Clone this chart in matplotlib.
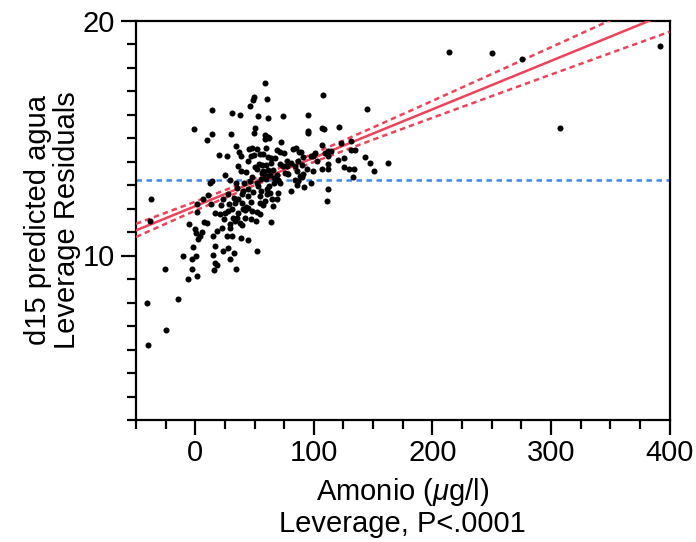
import numpy as np
import matplotlib
matplotlib.use("Agg")
import matplotlib.pyplot as plt
from matplotlib.ticker import MultipleLocator, FixedLocator

plt.rcParams['font.family'] = ['Liberation Sans', 'DejaVu Sans']
plt.rcParams['mathtext.fontset'] = 'custom'
plt.rcParams['mathtext.it'] = 'Liberation Sans:italic'
plt.rcParams['mathtext.rm'] = 'Liberation Sans'

# leverage points: Amonio (ug/l) vs d15 leverage residuals
amonio = [
    -37.1, -38.2, -25.5, -41.0, -14.3, -25.0, -39.7,
    59.0, 49.2, 48.9, 60.2, 45.9, 14.1, 31.0, 37.9, 52.6, 61.6, 73.7,
    -1.3, 13.8, 10.1, 29.8, 50.1, 49.5, 58.8, 61.0, 62.4, 58.8, 72.3,
    34.3, 48.1, 45.5, 52.3, 59.9, 68.6, 71.4, 74.5, 82.6, 84.9, 37.1,
    38.3, 20.2, 26.7, 47.0, 49.5, 54.6, 56.8, 61.6, 63.6, 67.2, 44.7,
    77.1, 80.4, 36.3, 53.5, 56.5, 59.4, 50.3, 52.3, 61.6, 65.8, 71.4,
    74.2, 77.6, 84.3, 38.5, 56.0, 58.8, 63.0, 68.6, 75.6, 25.3, 47.6,
    55.1, 59.6, 13.8, 12.4, 29.3, 34.3, 41.3, 51.8, 66.4, 71.4, 84.1,
    85.5, 34.9, 40.0, 44.7, 55.4, 60.2, 63.0, 70.0, 80.7, 11.0, 23.6,
    32.9, 39.1, 44.7, 54.6, 58.8, 64.4, 68.6, 6.2, 28.7, 33.5, 39.1,
    47.0, 54.6, 65.8, 1.7, 13.0, 16.6, 20.8, 25.0, 27.8, 30.7, 36.3,
    41.9, 44.7, 47.6, 51.8, 41.9, 46.7, 37.7, 39.1, -5.1, 1.2, 7.3,
    9.6, 29.3, 33.5, 51.2, 63.6, -0.3, 0.6, 5.4, 15.2, 22.3, 29.3,
    26.5, 30.7, 38.5, 44.2, 2.5, 4.0, -1.7, 16.6, 15.2, 23.6, 27.3,
    51.8, 32.6, 29.3, -10.1, -3.0, 0.6, 16.6, 18.0, -2.5, 16.0, 34.3,
    1.2, -6.2,
    108.0, 144.5, 94.8, 95.3, 95.5, 106.6, 108.8, 121.4, 87.4, 89.1,
    107.1, 122.9, 131.3, 131.0, 134.7, 109.4, 112.1, 114.4, 100.9, 97.6,
    99.5, 102.4, 91.1, 86.8, 89.7, 111.6, 112.1, 120.1, 125.6, 143.1,
    147.3, 162.7, 150.7, 125.1, 129.6, 134.1, 106.6, 111.6, 99.5, 93.9,
    85.5, 91.1, 88.3, 90.2, 133.3, 86.3, 97.6, 91.9, 111.6, 111.0,
    213.9, 250.2, 275.2, 307.5, 391.6,
    # extra points filling the dense core
    42.5, 46.0, 53.0, 57.5, 62.5, 66.0, 43.0, 48.5, 35.5, 40.5, 57.0,
    64.0, 69.5, 24.0, 28.0, 31.5, 18.5, 21.5, 36.0, 55.0, 60.5, 78.5,
]
residual = [
    12.42, 11.46, 9.44, 7.98, 8.15, 6.85, 6.19,
    17.32, 16.75, 16.60, 16.65, 16.36, 16.19, 16.05, 15.97, 15.92, 15.83, 15.93,
    15.39, 15.19, 14.93, 15.19, 15.43, 15.22, 15.13, 15.06, 14.99, 14.96, 14.81,
    14.68, 14.56, 14.54, 14.52, 14.58, 14.50, 14.42, 14.38, 14.54, 14.58, 14.42,
    14.25, 14.28, 14.22, 14.25, 14.28, 14.32, 14.30, 14.19, 14.13, 14.13, 14.03,
    14.03, 13.94, 13.82, 13.89, 13.85, 13.85, 13.75, 13.68, 13.65, 13.65, 13.89,
    13.82, 13.79, 13.79, 13.58, 13.53, 13.43, 13.42, 13.42, 13.51, 13.42, 13.32,
    13.25, 13.25, 13.18, 13.08, 13.22, 13.08, 13.08, 13.08, 13.08, 13.08, 13.22,
    13.01, 12.89, 12.75, 12.85, 12.75, 12.85, 12.68, 12.68, 12.75, 12.57, 12.39,
    12.46, 12.61, 12.54, 12.54, 12.32, 12.39, 12.42, 12.39, 12.18, 12.22, 12.25,
    12.28, 12.25, 12.11, 12.18, 12.21, 11.82, 11.75, 11.82, 11.89, 11.97, 11.82,
    11.94, 12.03, 11.89, 11.85, 11.61, 11.56, 11.39, 11.28, 11.32, 11.85, 11.42,
    11.39, 11.32, 11.46, 11.46, 11.42, 11.11, 10.96, 10.99, 10.82, 11.18, 11.18,
    10.85, 10.85, 10.75, 10.68, 10.71, 10.82, 10.36, 10.39, 10.04, 10.18, 10.32,
    10.18, 10.11, 9.85, 10.00, 9.85, 9.97, 9.68, 9.61, 9.42, 9.40, 9.42,
    9.14, 9.01,
    16.85, 16.23, 15.97, 15.28, 15.20, 15.42, 15.39, 15.46, 14.42, 14.39,
    14.72, 14.78, 14.86, 14.49, 14.50, 14.36, 14.45, 14.46, 14.36, 14.22,
    14.25, 14.03, 14.18, 14.03, 13.85, 14.22, 13.89, 14.08, 14.13, 14.18,
    13.94, 13.92, 13.58, 13.75, 13.68, 13.70, 13.70, 13.68, 13.61, 13.68,
    13.61, 13.46, 13.39, 13.32, 13.32, 13.18, 13.08, 12.93, 12.85, 12.32,
    18.65, 18.60, 18.37, 15.42, 18.93,
    13.55, 13.15, 12.95, 13.60, 12.95, 13.30, 12.05, 12.70, 11.60, 12.00, 12.15,
    13.95, 13.20, 11.55, 12.60, 11.60, 11.05, 12.15, 12.40, 11.75, 12.60, 13.45,
]

# fitted line and confidence band
fit_intercept = 12.1
fit_slope = 0.0206
mean_resid = 13.21
band_x = [-50, 0, 50, 100, 150, 200, 250, 300, 350, 400]
band_hw = [0.28, 0.19, 0.14, 0.18, 0.26, 0.36, 0.47, 0.58, 0.70, 0.82]

red = '#EE4259'
blue = '#3A89F0'

fig = plt.figure(figsize=(6.96, 5.42), dpi=100)
ax = fig.add_axes([136/696, 1-420/542, (669.5-136)/696, (420-20.5)/542])

bx = np.array(band_x, dtype=float)
fit = fit_intercept + fit_slope*bx
hw = np.array(band_hw)
ax.axhline(mean_resid, color=blue, lw=1.8, dashes=(2.2, 1.8), zorder=2)
ax.plot(bx, fit, color=red, lw=1.8, zorder=3)
ax.plot(bx, fit + hw, color=red, lw=1.8, dashes=(2.2, 1.6), zorder=3)
ax.plot(bx, fit - hw, color=red, lw=1.8, dashes=(2.2, 1.6), zorder=3)
ax.scatter(amonio, residual, s=19, color='black', zorder=4, linewidths=0)

ax.set_xlim(-50, 400)
ax.set_ylim(3, 20)
ax.xaxis.set_major_locator(FixedLocator([0, 100, 200, 300, 400]))
ax.xaxis.set_minor_locator(MultipleLocator(25))
ax.yaxis.set_major_locator(FixedLocator([10, 20]))
ax.yaxis.set_minor_locator(MultipleLocator(1))

for s in ax.spines.values():
    s.set_linewidth(1.6)
ax.tick_params(which='major', direction='out', length=11, width=1.6, labelsize=21, pad=3)
ax.tick_params(which='minor', direction='out', length=6.5, width=1.6)
ax.tick_params(axis='y', which='major', pad=4)

ax.set_ylabel('d15 predicted agua\nLeverage Residuals', fontsize=21, linespacing=1.05, labelpad=1)
xc = (136 + 669.5)/2/696
fig.text(xc, 1-492/542, r'Amonio ($\mu$g/l)', fontsize=21, ha='center', va='center')
fig.text(xc, 1-524/542, 'Leverage, P<.0001', fontsize=21, ha='center', va='center')

fig.savefig('out.png', dpi=100)
